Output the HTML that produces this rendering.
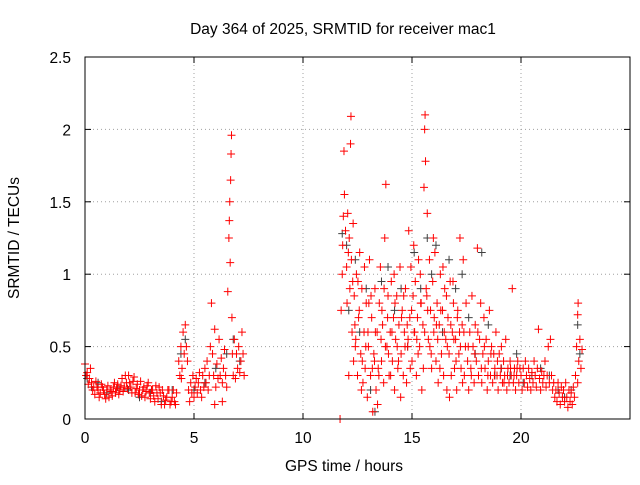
<!DOCTYPE html>
<html><head><meta charset="utf-8"><style>
html,body{margin:0;padding:0;background:#fff;}
svg text{font-family:"Liberation Sans",sans-serif;font-size:15.5px;fill:#000;}
</style></head><body>
<svg id="chart" width="640" height="480" xmlns="http://www.w3.org/2000/svg">
<rect x="0" y="0" width="640" height="480" fill="#fff"/>
<g id="grid"></g>
<g id="marks"></g>
<rect x="85" y="57" width="545" height="362" fill="none" stroke="#000" stroke-width="1"/>
<g id="ticks"></g>
<text x="343" y="34" text-anchor="middle">Day 364 of 2025, SRMTID for receiver mac1</text>
<text x="344" y="471" text-anchor="middle">GPS time / hours</text>
<text x="0" y="0" text-anchor="middle" transform="translate(19,238) rotate(-90)">SRMTID / TECUs</text>
</svg>
<script>
const xTicks=[0,5,10,15,20,25];
const xTickLabels=["0","5","10","15","20",""];
const yTicks=[0,0.5,1,1.5,2,2.5];
const yTickLabels=["0","0.5","1","1.5","2","2.5"];
const redTimes=[0,0.1,0.2,0.3,0.4,0.5,0.6,0.7,0.8,0.9,1.0,1.1,1.2,1.3,1.4,1.5,1.6,1.7,1.8,1.9,2.0,2.1,2.2,2.3,2.4,2.5,2.6,2.7,2.8,2.9,3.0,3.1,3.2,3.3,3.4,3.5,3.6,3.7,3.8,3.9,4.0,4.1,4.2,
0.05,0.15,0.25,0.35,0.45,0.55,0.65,0.75,0.85,0.95,1.05,1.15,1.25,1.35,1.45,1.55,1.65,1.75,1.85,1.95,2.05,2.15,2.25,2.35,2.45,2.55,2.65,2.75,2.85,2.95,3.05,3.15,3.25,3.35,3.45,3.55,3.65,3.75,3.85,3.95,4.05,4.15,
4.3,4.35,4.4,4.45,4.5,4.55,4.6,4.65,4.7,4.42,
4.75,4.8,4.85,4.9,4.95,5.0,5.05,5.1,5.15,5.2,5.25,5.3,5.35,5.4,5.45,5.5,
5.55,5.6,5.65,5.7,5.75,5.8,5.85,5.9,5.95,6.0,6.05,6.1,6.15,6.2,6.25,6.3,6.35,6.4,6.45,6.5,6.55,6.6,6.62,6.64,6.66,6.68,6.7,6.72,6.74,6.76,6.8,6.85,6.9,6.95,7.0,7.05,7.1,7.15,7.2,7.25,7.3,6.3,5.95,
11.7,
11.75,11.8,11.82,11.85,11.88,11.9,11.95,12.0,12.02,12.05,12.08,12.1,12.12,12.15,12.18,12.2,12.22,12.25,12.28,12.3,12.32,
12.35,12.4,12.45,12.5,12.55,12.6,12.65,12.7,12.75,12.8,12.85,12.9,12.95,13.0,13.05,13.1,13.15,13.2,13.25,13.3,13.35,13.4,13.45,13.5,13.55,13.6,13.65,13.7,13.75,13.8,13.85,13.9,13.95,14.0,14.05,14.1,14.15,14.2,14.25,14.3,14.35,14.4,14.45,14.5,14.55,14.6,14.65,14.7,14.75,14.8,14.85,14.9,14.95,15.0,15.05,15.1,15.15,15.2,15.25,15.3,15.35,15.4,15.45,15.5,15.55,15.58,15.6,15.62,15.65,15.7,15.75,15.8,15.85,15.9,15.95,16.0,16.05,16.1,16.15,16.2,16.25,16.3,16.35,16.4,16.45,16.5,16.55,16.6,16.65,16.7,16.75,16.8,16.85,16.9,16.95,17.0,17.05,17.1,17.15,17.2,17.25,17.3,17.35,17.4,17.45,
12.38,12.52,12.68,12.82,12.98,13.12,13.28,13.42,13.58,13.72,13.88,14.02,14.18,14.32,14.48,14.62,14.78,14.92,15.08,15.22,15.38,15.52,15.68,15.82,15.98,16.12,16.28,16.42,16.58,16.72,16.88,17.02,17.18,17.32,17.48,
12.42,12.58,12.72,12.88,13.02,13.18,13.32,13.48,13.62,13.78,13.92,14.08,14.22,14.38,14.52,14.68,14.82,14.98,15.12,15.28,15.42,15.58,15.72,15.88,16.02,16.18,16.32,16.48,16.62,16.78,16.92,17.08,17.22,17.38,
17.55,17.6,17.65,17.7,17.75,17.8,17.85,17.9,17.95,18.0,18.05,18.1,18.15,18.2,18.25,18.3,18.35,18.4,18.45,18.5,18.55,18.6,18.65,18.7,18.75,18.8,18.85,18.9,18.95,19.0,19.05,19.1,19.15,19.2,19.25,19.3,19.35,19.4,19.45,19.5,19.55,19.6,19.65,19.7,19.75,19.8,19.85,19.9,19.95,
17.58,17.72,17.88,18.02,18.18,18.32,18.48,18.62,18.78,18.92,19.08,19.22,19.38,19.52,19.68,19.82,
20.0,20.05,20.1,20.15,20.2,20.25,20.3,20.35,20.4,20.45,20.5,20.55,20.6,20.65,20.7,20.75,20.8,20.85,20.9,20.95,21.0,21.05,21.1,21.15,21.2,21.25,21.3,21.35,21.4,21.45,
21.5,21.55,21.6,21.65,21.7,21.75,21.8,21.85,21.9,21.95,22.0,22.05,22.1,22.15,22.2,22.25,22.3,22.35,22.4,22.45,22.5,22.55,22.6,22.62,22.65,22.7,22.75,22.8,22.6];
const redValues=[.38,.32,.28,.25,.22,.26,.2,.18,.22,.17,.2,.15,.19,.22,.18,.24,.2,.28,.22,.25,.3,.22,.26,.18,.24,.2,.16,.22,.19,.25,.14,.2,.12,.18,.22,.1,.16,.13,.2,.1,.15,.12,.18,
.3,.24,.35,.2,.17,.22,.15,.24,.2,.14,.23,.2,.16,.25,.21,.17,.23,.19,.3,.21,.25,.18,.29,.21,.17,.26,.2,.15,.23,.18,.2,.16,.23,.14,.18,.2,.1,.15,.2,.12,.2,.1,
.4,.3,.5,.35,.6,.45,.65,.5,.4,.28,
.2,.12,.25,.18,.3,.15,.22,.28,.18,.25,.32,.2,.15,.3,.22,.35,
.25,.4,.2,.3,.5,.8,.45,.3,.62,.22,.38,.28,.55,.3,.42,.25,.35,.48,.3,.22,.88,1.25,1.37,1.5,1.08,1.65,1.83,1.96,.7,.45,.3,.55,.28,.45,.35,.5,.32,.4,.6,.45,.3,.12,.1,
0,
.75,1.0,1.2,1.4,1.85,1.55,1.3,1.05,.8,1.42,1.15,.3,1.25,.9,1.9,2.09,1.1,.6,.95,1.35,.4,
.85,.5,1.0,.3,.7,1.15,.45,.9,.25,.6,.35,.8,.15,.5,1.1,.3,.7,.05,.45,.9,.2,.6,.35,.8,1.05,.4,.65,.25,1.25,1.62,.5,.85,.3,.6,.95,.4,.7,.2,.55,.85,.35,.65,1.05,.45,.75,.3,.6,.9,.25,.5,1.3,.7,1.05,.4,.85,.6,.95,.3,.7,1.1,.5,.8,.2,.65,1.6,2.0,2.1,1.78,.9,1.42,.55,1.1,.75,.35,.95,.6,1.15,.4,.8,.25,.65,1.0,.45,.75,.3,.9,.55,.2,.7,.45,.95,.3,.6,.8,.35,.55,.2,.75,.45,1.25,.35,.65,1.1,.3,.5,
.65,.95,.2,1.05,.6,.85,.4,.1,.55,.9,.7,.3,1.0,.5,.15,.85,.65,.35,1.2,.55,1.0,.35,.85,.5,1.25,.65,.35,1.05,.85,.15,.95,.4,.6,.25,.8,
.55,.75,.4,.5,.8,.35,.6,.3,.75,.5,.45,.6,.8,.4,.7,.5,.55,.75,.6,.45,.8,.6,.75,.45,.7,.55,.75,.6,.5,.65,.55,.7,.5,.6,
.4,.2,.6,.35,.85,.5,.25,.65,.4,1.18,.3,.55,.8,.25,.45,.7,.35,.55,.2,.4,.75,.3,.5,.25,.45,.35,.6,.3,.2,.45,.3,.5,.25,.4,.3,.55,.2,.35,.25,.4,.3,.9,.25,.35,.2,.3,.4,.25,.35,
.5,.3,.45,.6,.35,.5,.3,.45,.3,.4,.35,.25,.3,.35,.3,.35,
.3,.2,.35,.25,.4,.3,.22,.35,.28,.2,.32,.25,.4,.3,.22,.35,.62,.28,.2,.33,.25,.3,.4,.22,.3,.5,.25,.55,.3,.2,
.25,.15,.2,.12,.25,.18,.1,.22,.15,.2,.12,.25,.15,.08,.2,.12,.18,.1,.22,.15,.3,.5,.72,.8,.4,.55,.35,.48,.25];
const blackTimes=[0.1,0.3,0.6,1.0,1.5,2.0,2.5,3.0,3.5,4.0,4.4,4.6,5.0,5.5,6.0,6.5,6.8,7.1,11.8,12.0,12.1,12.4,12.6,12.9,13.1,13.3,13.6,13.9,14.2,14.5,14.8,15.1,15.4,15.7,15.9,16.1,16.4,16.7,17.0,17.3,17.6,17.9,18.2,18.5,18.8,19.1,19.5,19.8,20.1,20.5,20.9,21.3,21.7,22.0,22.3,22.6,22.7];
const blackValues=[.28,.22,.25,.18,.22,.2,.15,.18,.12,.2,.45,.55,.2,.25,.35,.45,.55,.4,1.28,1.2,.75,1.1,.6,.9,.2,.05,.95,1.05,.75,.9,.5,1.15,.9,1.25,1.0,1.2,.6,1.1,.9,1.0,.7,.45,1.15,.65,.3,.35,.3,.45,.25,.3,.35,.3,.2,.15,.2,.65,.45];

const X0=85,X1=630,Y0=419,Y1=57;
function xs(t){return X0+(t-0)/(25-0)*(X1-X0);}
function ys(v){return Y0-(v-0)/(2.5-0)*(Y0-Y1);}
const NS="http://www.w3.org/2000/svg";
const grid=document.getElementById('grid'),ticks=document.getElementById('ticks'),marks=document.getElementById('marks');
function mk(tag,attrs,parent){const e=document.createElementNS(NS,tag);for(const k in attrs)e.setAttribute(k,attrs[k]);parent.appendChild(e);return e;}
xTicks.forEach((t,i)=>{
  const x=xs(t);
  if(i>0&&i<xTicks.length-1){const g=mk('line',{x1:x,y1:Y1,x2:x,y2:Y0,stroke:'#a0a0a0','stroke-dasharray':'1,3','stroke-width':1},grid);
  
  }
  const a=mk('line',{x1:x,y1:Y0,x2:x,y2:Y0-6,stroke:'#000'},ticks);
  
  
  const b=mk('line',{x1:x,y1:Y1,x2:x,y2:Y1+6,stroke:'#000'},ticks);
  
  
  const l=mk('text',{x:x,y:Y0+24,'text-anchor':'middle'},ticks);l.textContent=xTickLabels[i];
  
  
});
yTicks.forEach((v,i)=>{
  const y=ys(v);
  if(i>0&&i<yTicks.length-1){const g=mk('line',{x1:X0,y1:y,x2:X1,y2:y,stroke:'#a0a0a0','stroke-dasharray':'1,3','stroke-width':1},grid);
  
  }
  const a=mk('line',{x1:X0,y1:y,x2:X0+6,y2:y,stroke:'#000'},ticks);
  
  
  const b=mk('line',{x1:X1,y1:y,x2:X1-6,y2:y,stroke:'#000'},ticks);
  
  
  const l=mk('text',{x:X0-14,y:y+6,'text-anchor':'end'},ticks);l.textContent=yTickLabels[i];
  
  
});
function plus(t,v,color,name){
  const x=xs(t),y=ys(v);
  const p=mk('path',{d:`M${x-4},${y}H${x+4}M${x},${y-4}V${y+4}`,stroke:color,'stroke-width':1,fill:'none'},marks);
  
  
}
blackTimes.forEach((t,i)=>plus(t,blackValues[i],'#404040','black-point'));
redTimes.forEach((t,i)=>plus(t,redValues[i],'#ff0000','red-point'));
</script>
</body></html>
